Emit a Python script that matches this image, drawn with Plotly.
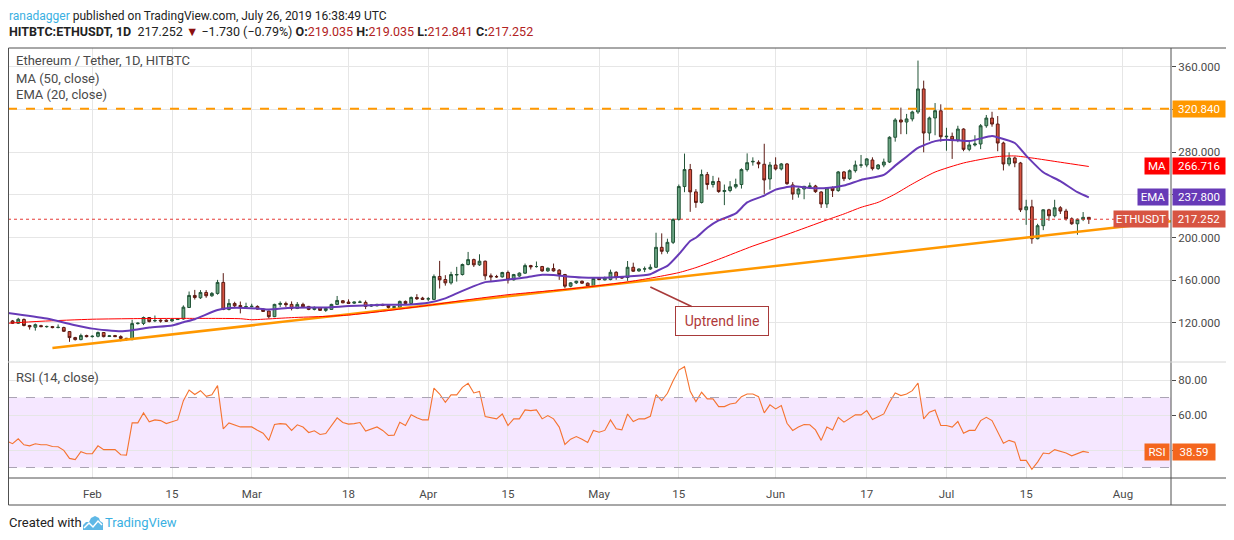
import plotly.graph_objects as go
from plotly.subplots import make_subplots
import pandas as pd

# ---------------- data ----------------
dates = pd.date_range("2019-01-17", "2019-07-26", freq="D")

opens = [
    121.5, 121.9, 119.7, 123.3, 117.6, 116.0, 117.5, 116.5, 116.6, 115.7, 115.7, 111.9, 106.3, 104.4, 108.2,
    107.2, 107.5, 111.0, 107.3, 108.2, 107.2, 105.6, 104.4, 119.4, 119.6, 125.1, 121.9, 122.6, 122.6,
    121.9, 123.2, 123.8, 134.5, 145.8, 143.6, 148.6, 145.5, 147.7, 158.0, 132.7, 138.3, 136.4, 135.3,
    135.4, 135.5, 133.0, 131.2, 125.9, 137.4, 138.3, 137.4, 133.6, 137.4, 135.5, 132.7, 134.3, 131.8,
    132.7, 137.4, 140.8, 139.6, 138.6, 139.4, 139.3, 135.8, 136.1, 137.4, 136.4, 134.6, 134.6, 140.2,
    138.3, 143.9, 143.3,
    142.4, 142.1, 163.6, 160.7, 157.6, 165.0, 165.4, 174.8, 179.4, 174.5, 177.9, 164.2, 163.5, 163.2,
    167.3, 160.4, 164.0, 166.7, 173.8, 172.9, 172.9, 168.8, 171.0, 169.5, 165.4, 154.5, 157.6, 159.1,
    157.3, 154.5,
    161.9, 160.4, 160.7, 167.5, 163.2, 162.6, 172.2, 168.8, 170.6, 170.6, 172.2, 190.9, 187.2, 195.6,
    217.1, 247.9, 263.8, 242.9, 233.0, 259.1, 249.8, 252.6, 243.2, 244.2, 247.6, 249.8, 263.8, 271.0,
    270.6, 268.8, 255.0,
    268.1, 264.4, 269.1, 249.4, 240.9, 245.6, 247.8, 248.4, 242.8, 231.6, 246.9, 244.1, 261.6, 255.3,
    262.8, 268.0, 268.1, 272.8, 264.7, 268.1, 270.9, 294.1, 310.3, 308.4, 311.3, 317.8, 339.4, 298.1,
    312.2, 318.9,
    294.5, 294.9, 291.5, 301.8, 282.8, 286.9, 287.8, 304.9, 312.1, 306.5, 288.7, 269.1, 274.7, 270.0,
    226.1, 228.9, 199.0, 211.2, 226.1, 220.5, 228.0, 224.9, 217.7, 213.0, 217.1, 219.035,
]
highs = [
    122.5, 122.8, 124.8, 124.2, 118.2, 119.5, 118.3, 117.5, 117.2, 118.6, 116.5, 112.4, 107.0, 110.0, 109.0,
    108.5, 112.0, 111.5, 108.5, 108.8, 108.5, 106.0, 123.0, 120.5, 126.0, 125.5, 127.0, 123.5, 123.5,
    124.0, 124.5, 136.5, 149.5, 151.0, 150.8, 150.8, 149.0, 160.4, 166.7, 142.4, 139.9, 140.1, 139.0,
    138.0, 136.5, 133.5, 131.5, 138.0, 140.2, 140.0, 140.2, 139.6, 139.0, 136.0, 135.5, 135.0, 134.5,
    138.0, 145.3, 141.5, 142.1, 140.0, 141.1, 141.1, 137.5, 138.0, 138.0, 137.0, 135.8, 141.0, 141.0,
    144.8, 147.0, 144.5,
    144.3, 165.5, 178.2, 164.8, 168.0, 172.6, 175.7, 186.6, 180.3, 184.4, 178.5, 166.4, 165.1, 168.0,
    169.1, 166.0, 167.5, 175.7, 174.5, 177.6, 173.5, 172.0, 175.7, 170.5, 166.0, 158.2, 159.6, 159.8,
    158.0, 162.5,
    162.8, 163.5, 170.0, 168.5, 164.0, 178.1, 176.5, 171.2, 172.9, 175.0, 204.6, 204.0, 199.0, 218.0,
    249.8, 278.8, 269.1, 245.5, 263.8, 261.6, 257.9, 256.3, 249.8, 253.0, 255.3, 265.0, 279.0, 275.3,
    272.5, 288.0, 271.0,
    275.3, 270.0, 270.0, 252.0, 247.0, 248.5, 251.6, 249.5, 243.5, 247.5, 248.0, 262.5, 262.5, 264.0,
    272.2, 277.5, 274.5, 275.3, 269.0, 274.1, 295.0, 312.0, 321.9, 316.0, 319.0, 366.0, 347.2, 313.5,
    326.2, 325.0,
    303.0, 298.5, 304.9, 302.5, 290.6, 296.0, 306.5, 315.0, 318.0, 314.0, 290.0, 280.0, 276.0, 271.0,
    235.5, 235.5, 213.0, 226.5, 227.0, 235.5, 229.5, 227.0, 219.0, 218.0, 224.0, 219.035,
]
lows = [
    120.5, 119.0, 119.0, 116.8, 113.8, 112.8, 115.9, 115.5, 115.0, 115.0, 111.5, 102.3, 103.5, 103.8, 106.5,
    106.3, 106.5, 106.5, 106.8, 106.8, 102.8, 103.5, 103.8, 118.5, 118.0, 120.5, 120.8, 120.3, 121.0,
    121.2, 122.8, 123.0, 134.0, 142.0, 142.5, 143.6, 144.5, 146.5, 132.0, 131.8, 134.5, 129.0, 133.8,
    134.5, 132.5, 130.5, 124.1, 125.5, 135.0, 135.0, 131.8, 133.0, 134.5, 132.0, 131.8, 131.5, 130.4,
    132.3, 136.8, 138.5, 137.8, 137.8, 138.8, 133.0, 135.0, 135.5, 135.8, 133.5, 133.6, 134.0, 137.5,
    137.8, 141.5, 141.5,
    140.5, 141.5, 152.3, 155.0, 156.0, 158.8, 164.5, 174.0, 172.5, 173.5, 160.4, 159.4, 162.2, 162.5,
    157.0, 159.8, 163.2, 166.0, 170.1, 171.9, 168.0, 168.0, 168.2, 160.4, 152.5, 153.5, 156.5, 156.5,
    153.5, 154.0,
    160.0, 159.8, 160.0, 160.5, 161.5, 159.5, 168.0, 168.0, 167.7, 169.8, 171.5, 184.4, 185.0, 194.0,
    216.0, 242.6, 224.2, 228.0, 232.0, 245.0, 247.0, 242.0, 230.5, 242.5, 246.0, 246.0, 262.0, 267.5,
    265.0, 241.0, 245.0,
    263.0, 263.0, 249.5, 235.5, 237.5, 236.0, 246.5, 242.0, 227.9, 227.9, 238.1, 243.0, 253.0, 254.0,
    261.0, 265.5, 266.0, 263.0, 263.5, 266.0, 270.0, 290.0, 297.0, 297.0, 309.0, 316.0, 280.0, 291.0,
    296.0, 290.0,
    281.5, 273.8, 289.5, 281.0, 281.0, 285.5, 283.0, 303.0, 304.0, 281.0, 263.0, 267.0, 266.0, 224.0,
    212.0, 194.3, 198.4, 207.0, 215.8, 219.0, 222.2, 216.0, 212.0, 202.7, 215.5, 212.841,
]
closes = [
    121.9, 119.7, 123.5, 117.6, 116.4, 118.4, 116.6, 116.7, 115.7, 115.9, 112.2, 106.3, 104.4, 108.2, 107.2,
    107.5, 111.0, 107.2, 107.9, 107.2, 105.6, 104.4, 119.4, 119.8, 125.1, 121.3, 122.3, 121.9, 121.6,
    123.2, 123.8, 134.8, 145.8, 143.9, 148.6, 145.5, 147.7, 158.0, 132.7, 138.3, 136.1, 135.2, 135.4,
    135.6, 133.0, 130.8, 125.9, 137.4, 138.3, 137.1, 133.6, 137.4, 135.2, 132.7, 134.6, 131.8, 133.6,
    137.4, 141.1, 138.9, 138.3, 139.6, 139.6, 135.5, 136.8, 137.4, 136.4, 134.6, 135.2, 140.2, 138.3,
    143.9, 142.7, 142.1,
    142.7, 163.6, 160.4, 157.6, 165.4, 165.4, 174.8, 179.4, 174.5, 177.9, 164.2, 163.2, 163.3, 167.3,
    160.4, 165.4, 166.7, 173.8, 172.6, 172.9, 168.8, 171.3, 168.8, 165.4, 154.5, 157.6, 159.1, 157.3,
    154.5, 161.6,
    160.7, 162.2, 167.5, 162.6, 162.2, 172.2, 168.5, 170.6, 170.7, 172.2, 190.9, 187.2, 195.6, 217.1,
    247.9, 263.8, 242.9, 233.0, 259.1, 249.8, 252.6, 243.2, 244.2, 247.6, 249.8, 263.8, 270.3, 271.5,
    269.1, 254.1, 268.1,
    264.4, 269.1, 250.6, 240.9, 245.6, 248.1, 248.4, 243.1, 231.6, 246.6, 244.1, 261.6, 255.3, 262.8,
    268.1, 268.1, 273.8, 264.7, 268.1, 270.9, 294.1, 310.3, 308.4, 311.3, 317.8, 339.4, 298.1, 312.2,
    319.0, 294.6,
    295.0, 291.5, 301.8, 282.8, 286.9, 287.8, 304.9, 312.1, 306.5, 288.7, 269.1, 274.7, 270.0, 226.1,
    228.9, 199.0, 211.2, 226.1, 220.5, 228.0, 224.9, 217.7, 213.0, 217.1, 218.982, 217.252,
]
rsi_values = [
    45.1, 43.6, 46.4, 43.0, 42.4, 43.6, 43.0, 43.0, 42.0, 41.9, 39.8, 35.2, 34.5, 39.0, 37.9,
    37.9, 42.4, 40.2, 40.2, 40.2, 37.3, 37.1, 55.5, 55.5, 61.2, 56.1, 57.2, 56.8, 55.1,
    56.3, 57.2, 68.2, 74.3, 71.7, 73.9, 70.7, 71.5, 76.8, 52.1, 55.5, 54.4, 53.2, 53.2,
    53.2, 51.3, 49.6, 45.5, 54.6, 55.1, 54.8, 51.2, 54.4, 53.1, 50.0, 51.0, 48.9, 49.4,
    53.8, 58.4, 55.7, 54.8, 55.1, 55.7, 50.8, 51.9, 53.2, 51.2, 48.3, 48.5, 55.9, 54.0,
    60.1, 58.4, 57.2,
    57.2, 75.4, 72.0, 67.3, 71.5, 71.5, 75.8, 78.1, 72.6, 73.5, 59.1, 58.4, 57.8, 60.6,
    54.0, 57.8, 57.8, 62.9, 62.5, 62.9, 57.8, 59.7, 57.8, 53.1, 43.2, 46.2, 47.7, 46.2,
    44.3, 51.2,
    50.2, 51.2, 57.2, 52.1, 51.5, 60.6, 56.3, 57.8, 57.8, 59.3, 71.7, 68.2, 72.4, 79.6,
    85.7, 87.6, 73.5, 67.7, 73.0, 69.2, 69.2, 64.8, 64.8, 66.3, 66.9, 70.5, 72.0, 72.0,
    70.5, 61.2, 65.8,
    63.5, 65.4, 55.3, 51.2, 53.1, 54.6, 54.4, 51.5, 45.5, 53.1, 51.5, 58.7, 55.9, 58.2,
    60.1, 60.1, 62.5, 57.4, 59.1, 60.6, 67.3, 72.6, 71.1, 72.0, 73.9, 78.3, 57.8, 61.6,
    62.9, 54.0,
    54.0, 53.1, 56.3, 49.6, 51.2, 51.2, 56.8, 58.7, 56.8, 50.6, 43.9, 45.5, 44.5, 34.1,
    34.1, 29.0, 33.1, 38.3, 37.9, 40.2, 39.4, 38.3, 36.7, 37.9, 39.2, 38.59,
]

ma_dates = ["2019-01-17", "2019-01-23", "2019-02-01", "2019-02-09", "2019-02-19", "2019-02-27",
            "2019-03-01", "2019-03-03", "2019-03-08", "2019-03-14", "2019-03-18", "2019-03-24",
            "2019-04-01", "2019-04-09", "2019-04-15", "2019-04-21", "2019-04-25", "2019-05-01",
            "2019-05-06", "2019-05-10", "2019-05-15", "2019-05-18", "2019-05-22", "2019-05-28",
            "2019-06-03", "2019-06-10", "2019-06-13", "2019-06-16", "2019-06-19", "2019-06-22",
            "2019-06-25", "2019-06-29", "2019-07-04", "2019-07-10", "2019-07-13", "2019-07-16",
            "2019-07-21", "2019-07-26"]
ma_values = [119.7, 121.6, 123.5, 124.1, 124.3, 124.0, 123.0, 123.5, 125.0, 126.2, 127.4, 131.0,
             136.5, 142.5, 146.5, 149.5, 151.5, 155.0, 158.5, 162.0, 167.2, 171.9, 179.7, 192.1,
             203.0, 216.6, 222.2, 228.4, 233.1, 240.9, 250.3, 261.5, 270.0, 276.0, 276.6, 274.7,
             270.7, 266.716]

ema_dates = ["2019-01-17", "2019-01-24", "2019-01-29", "2019-02-01", "2019-02-06", "2019-02-08",
             "2019-02-11", "2019-02-15", "2019-02-17", "2019-02-19", "2019-02-23", "2019-02-25",
             "2019-03-02", "2019-03-04", "2019-03-08", "2019-03-14", "2019-03-18", "2019-03-24",
             "2019-03-29", "2019-04-01", "2019-04-04", "2019-04-06", "2019-04-09", "2019-04-11",
             "2019-04-15", "2019-04-18", "2019-04-21", "2019-04-23", "2019-04-25", "2019-04-28",
             "2019-05-03", "2019-05-06", "2019-05-10", "2019-05-12", "2019-05-13", "2019-05-15",
             "2019-05-17", "2019-05-18", "2019-05-20", "2019-05-22", "2019-05-25", "2019-05-27",
             "2019-05-30", "2019-06-01", "2019-06-04", "2019-06-07", "2019-06-10", "2019-06-13",
             "2019-06-16", "2019-06-20", "2019-06-22", "2019-06-24", "2019-06-26", "2019-06-29",
             "2019-07-01", "2019-07-05", "2019-07-09", "2019-07-10", "2019-07-13", "2019-07-15",
             "2019-07-18", "2019-07-21", "2019-07-24", "2019-07-26"]
ema_values = [129.5, 124.1, 117.9, 114.7, 112.2, 113.2, 115.7, 117.6, 120.7, 123.5, 132.1, 134.0,
              133.6, 132.7, 134.3, 134.6, 135.8, 137.0, 137.4, 138.9, 143.0, 147.7, 154.5, 158.3,
              160.7, 162.6, 165.1, 165.0, 163.8, 162.6, 162.6, 163.5, 165.7, 171.0, 173.5, 184.4,
              196.8, 199.9, 209.3, 216.1, 222.7, 233.0, 239.4, 245.0, 248.1, 246.6, 246.6, 248.8,
              254.1, 258.8, 267.5, 275.9, 284.1, 290.5, 291.8, 290.6, 295.3, 294.0, 288.7, 276.9,
              261.3, 252.9, 242.6, 237.8]

trend_dates = ["2019-01-25", "2019-08-12"]
trend_prices = [96.6, 216.9]
resistance_level = 320.84

xtick_dates = ["2019-02-01", "2019-02-15", "2019-03-01", "2019-03-18", "2019-04-01", "2019-04-15",
               "2019-05-01", "2019-05-15", "2019-06-01", "2019-06-17", "2019-07-01", "2019-07-15",
               "2019-08-01"]
xtick_labels = ["Feb", "15", "Mar", "18", "Apr", "15", "May", "15", "Jun", "17", "Jul", "15", "Aug"]
price_ticks = [120, 160, 200, 240, 280, 320, 360]
rsi_ticks = [40, 60, 80]

assert len(opens) == len(highs) == len(lows) == len(closes) == len(rsi_values) == len(dates)
assert len(ma_dates) == len(ma_values) and len(ema_dates) == len(ema_values)

# ---------------- geometry helpers (page pixels; page body has an 8px margin) ----------------
OFF = 8
W, H = 1234 - OFF, 540 - OFF
PLOT_L, PLOT_R, PLOT_T, PLOT_B = 8, 1171, 48, 478          # page coordinates of the plot area
L, R, T, B = PLOT_L - OFF, W - (PLOT_R - OFF), PLOT_T - OFF, H - (PLOT_B - OFF)
PW, PH = PLOT_R - PLOT_L, PLOT_B - PLOT_T


def px_x(px):
    return (px - PLOT_L) / PW


def px_y(py):
    return (PLOT_B - py) / PH


FONT = "Roboto, 'Liberation Sans', sans-serif"
AXIS_COL = "#4a4a4a"
GRID = "#e6e6e6"

fig = make_subplots(rows=2, cols=1, shared_xaxes=True, vertical_spacing=0,
                    row_heights=[314, 116])

# candles
fig.add_trace(go.Candlestick(
    x=dates, open=opens, high=highs, low=lows, close=closes,
    increasing=dict(fillcolor="#6ba583", line=dict(color="#225437", width=1)),
    decreasing=dict(fillcolor="#d75442", line=dict(color="#5b1a13", width=1)),
    whiskerwidth=0, showlegend=False, hoverinfo="skip"), row=1, col=1)

# trend line
fig.add_trace(go.Scatter(x=trend_dates, y=trend_prices, mode="lines",
                         line=dict(color="#ff9800", width=2.5), showlegend=False,
                         hoverinfo="skip"), row=1, col=1)
# MA 50
fig.add_trace(go.Scatter(x=ma_dates, y=ma_values, mode="lines",
                         line=dict(color="#ff0000", width=1, shape="spline", smoothing=0.6),
                         showlegend=False, hoverinfo="skip"), row=1, col=1)
# EMA 20
fig.add_trace(go.Scatter(x=ema_dates, y=ema_values, mode="lines",
                         line=dict(color="#673ab7", width=2, shape="spline", smoothing=0.6),
                         showlegend=False, hoverinfo="skip"), row=1, col=1)
# RSI
fig.add_trace(go.Scatter(x=dates, y=rsi_values, mode="lines",
                         line=dict(color="#f57330", width=1.1), showlegend=False,
                         hoverinfo="skip"), row=2, col=1)

x_range = ["2019-01-17 04:48", "2019-08-09 10:20"]

fig.update_xaxes(type="date", range=x_range, tickvals=xtick_dates, ticktext=xtick_labels,
                 showgrid=True, gridcolor=GRID, gridwidth=1, zeroline=False, showline=False,
                 rangeslider_visible=False, fixedrange=True)
fig.update_xaxes(showticklabels=False, ticks="", row=1, col=1)
fig.update_xaxes(showticklabels=True, ticks="", ticklabelstandoff=7,
                 tickfont=dict(family=FONT, size=11.5, color=AXIS_COL), row=2, col=1)

fig.update_yaxes(side="right", range=[83.4, 377.8], tickvals=price_ticks,
                 ticktext=[f"{v:.3f}" for v in price_ticks],
                 showgrid=True, gridcolor=GRID, zeroline=False, showline=False,
                 ticks="outside", ticklen=4, tickcolor=AXIS_COL,
                 tickfont=dict(family=FONT, size=11.5, color=AXIS_COL), fixedrange=True,
                 row=1, col=1)
fig.update_yaxes(side="right", range=[24.0, 90.3], tickvals=rsi_ticks,
                 ticktext=[f"{v:.2f}" for v in rsi_ticks],
                 showgrid=True, gridcolor=GRID, zeroline=False, showline=False,
                 ticks="outside", ticklen=4, tickcolor=AXIS_COL,
                 tickfont=dict(family=FONT, size=11.5, color=AXIS_COL), fixedrange=True,
                 row=2, col=1)

shapes = []
# RSI band and levels
shapes.append(dict(type="rect", xref="x2 domain", x0=0, x1=1, yref="y2", y0=30, y1=70,
                   fillcolor="rgba(153,21,255,0.1)", line=dict(width=0), layer="below"))
for lvl in (30, 70):
    shapes.append(dict(type="line", xref="x2 domain", x0=0, x1=1, yref="y2", y0=lvl, y1=lvl,
                       line=dict(color="#aaa3b3", width=1, dash="dash")))
# resistance (dashed orange)
shapes.append(dict(type="line", xref="x domain", x0=0, x1=1, yref="y", y0=resistance_level,
                   y1=resistance_level, line=dict(color="#ff9800", width=2, dash="dash")))
# last price (dotted red)
shapes.append(dict(type="line", xref="x domain", x0=0, x1=1, yref="y", y0=closes[-1],
                   y1=closes[-1], line=dict(color="#e53935", width=1, dash="dot")))
# frame lines
frame = "#505050"
shapes.append(dict(type="rect", xref="paper", yref="paper", x0=px_x(8.5), x1=px_x(1227),
                   y0=px_y(505), y1=px_y(48), line=dict(color=frame, width=1)))
shapes.append(dict(type="line", xref="paper", yref="paper", x0=1, x1=1,
                   y0=px_y(505), y1=1, line=dict(color=frame, width=1)))
shapes.append(dict(type="line", xref="paper", yref="paper", x0=0, x1=px_x(1227),
                   y0=0, y1=0, line=dict(color=frame, width=1)))
shapes.append(dict(type="line", xref="paper", yref="paper", x0=0, x1=px_x(1227),
                   y0=px_y(362), y1=px_y(362), line=dict(color="#d6d6d6", width=1)))


# TradingView logo (small cloud icon)
def pth(points, close=True):
    s = "M " + " L ".join(f"{px_x(a):.5f},{px_y(b):.5f}" for a, b in points)
    return s + (" Z" if close else "")


cloud = [(83, 530), (83, 525), (86, 522), (89, 522), (91, 518), (95, 516), (99, 518),
         (100, 521), (103, 523), (103, 530)]
shapes.append(dict(type="path", xref="paper", yref="paper", path=pth(cloud),
                   fillcolor="#5fb8e6", line=dict(width=0)))
shapes.append(dict(type="path", xref="paper", yref="paper",
                   path=pth([(84, 528), (89, 523), (93, 527), (98, 521), (102, 525)], close=False),
                   line=dict(color="white", width=1.5)))

annotations = []


def text_ann(txt, px, py, size=12.5, color="#4a4a4a"):
    annotations.append(dict(text=txt, xref="paper", yref="paper", x=px_x(px), y=px_y(py),
                            xanchor="left", yanchor="middle", showarrow=False,
                            font=dict(family=FONT, size=size, color=color)))


# header
text_ann("<span style='color:#3ab0e2'>ranadagger</span> published on TradingView.com, "
         "July 26, 2019 16:38:49 UTC", 7, 15.5, size=12, color="#222222")
last = closes[-1]
chg = last - closes[-2]
pct = chg / closes[-2] * 100
val = "#b22222"
hdr = (f"<b>HITBTC:ETHUSDT, 1D</b>  {last:.3f} <span style='color:#8b1010'>▼</span> "
       f"{chg:.3f} ({pct:.2f}%) ".replace("-", "−")
       + f"<b>O:</b><span style='color:{val}'>{opens[-1]:.3f}</span> "
       + f"<b>H:</b><span style='color:{val}'>{highs[-1]:.3f}</span> "
       + f"<b>L:</b><span style='color:{val}'>{lows[-1]:.3f}</span> "
       + f"<b>C:</b><span style='color:{val}'>{closes[-1]:.3f}</span>")
text_ann(hdr, 7, 31, size=12.5, color="#222222")

# legend texts inside panes
text_ann("Ethereum / Tether, 1D, HITBTC", 14, 61, size=13)
text_ann("MA (50, close)", 14, 78, size=13)
text_ann("EMA (20, close)", 14, 95, size=13)
text_ann("RSI (14, close)", 14, 377, size=13)

# footer
text_ann("Created with", 7, 522, size=13, color="#222222")
text_ann("TradingView", 103, 522, size=13, color="#3ab0e2")


def badge(txt, center_px, yval, yref, width, bg):
    annotations.append(dict(text=txt, xref="paper", x=px_x(center_px), yref=yref, y=yval,
                            xanchor="center", yanchor="middle", showarrow=False,
                            width=width, height=14, bgcolor=bg, borderpad=1,
                            font=dict(family=FONT, size=11.5, color="white")))


badge(f"{resistance_level:.3f}", 1199, resistance_level, "y", 50, "#ff9800")
badge("MA", 1157, ma_values[-1], "y", 22, "#ff0000")
badge(f"{ma_values[-1]:.3f}", 1199, ma_values[-1], "y", 50, "#ff0000")
badge("EMA", 1153, ema_values[-1], "y", 28, "#673ab7")
badge(f"{ema_values[-1]:.3f}", 1199, ema_values[-1], "y", 50, "#673ab7")
badge("ETHUSDT", 1141, closes[-1], "y", 52, "#d75442")
badge(f"{closes[-1]:.3f}", 1199, closes[-1], "y", 50, "#d75442")
badge("RSI", 1157, rsi_values[-1], "y2", 22, "#f4661e")
badge(f"{rsi_values[-1]:.2f}", 1194, rsi_values[-1], "y2", 40, "#f4661e")

# uptrend callout
annotations.append(dict(text="Uptrend line", xref="x", yref="y", x="2019-05-10", y=153.8,
                        ax=72, ay=34, showarrow=True, arrowhead=0, arrowwidth=1.6,
                        arrowcolor="#a83a3a", bordercolor="#a83a3a", borderwidth=1,
                        borderpad=6, bgcolor="white", width=80,
                        font=dict(family=FONT, size=14, color="#b03a3a")))

fig.update_layout(width=W, height=H, margin=dict(l=L, r=R, t=T, b=B),
                  paper_bgcolor="white", plot_bgcolor="white",
                  shapes=shapes, annotations=annotations, showlegend=False,
                  hovermode=False, font=dict(family=FONT))

fig.write_html("out.html")
